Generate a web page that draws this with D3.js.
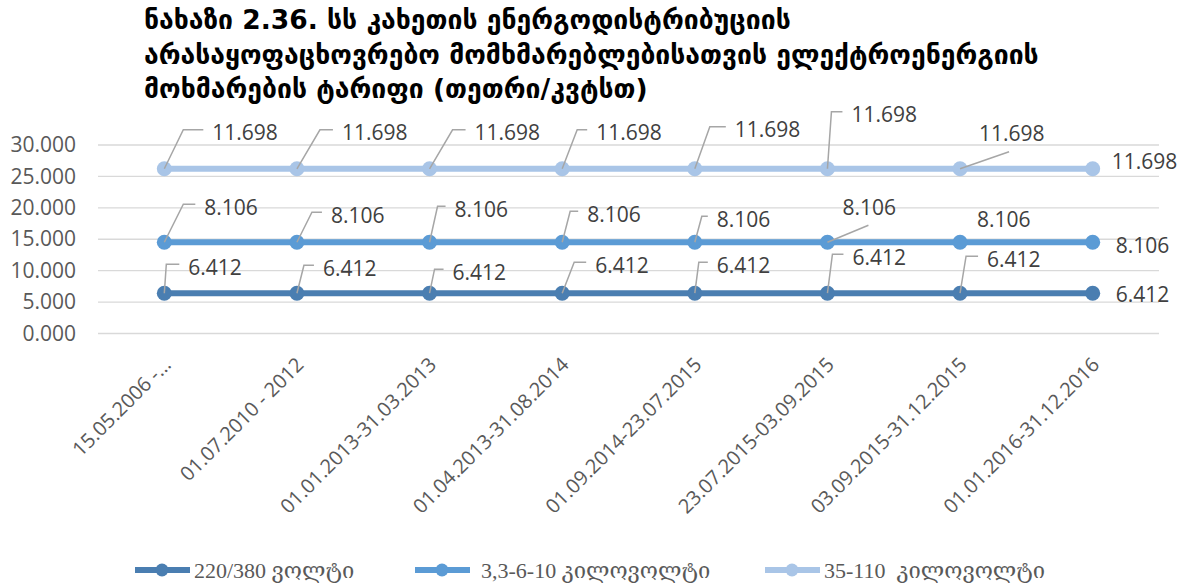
<!DOCTYPE html>
<html>
<head>
<meta charset="utf-8">
<script src="https://cdn.jsdelivr.net/npm/d3@7"></script>
<style>
  body { margin: 0; background: #fff; }
  svg { display: block; }
</style>
</head>
<body>
<script>
// chart data
var titleLines = [
    "ნახაზი 2.36. სს კახეთის ენერგოდისტრიბუციის",
    "არასაყოფაცხოვრებო მომხმარებლებისათვის ელექტროენერგიის",
    "მოხმარების ტარიფი (თეთრი/კვტსთ)"
];
var categories = [
    "15.05.2006 -...", "01.07.2010 - 2012", "01.01.2013-31.03.2013", "01.04.2013-31.08.2014",
    "01.09.2014-23.07.2015", "23.07.2015-03.09.2015", "03.09.2015-31.12.2015", "01.01.2016-31.12.2016"
];
var seriesNames = ["220/380 ვოლტი", "3,3-6-10 კილოვოლტი", "35-110  კილოვოლტი"];
var v220 = [6.412, 6.412, 6.412, 6.412, 6.412, 6.412, 6.412, 6.412];
var v3310 = [8.106, 8.106, 8.106, 8.106, 8.106, 8.106, 8.106, 8.106];
var v35110 = [11.698, 11.698, 11.698, 11.698, 11.698, 11.698, 11.698, 11.698];
var yTicks = [0, 5, 10, 15, 20, 25, 30];

var colors = ["#4a7eb1", "#5b9bd5", "#a9c5e7"];

// label placement (text start dx, centre dy, leader kind, extra)
// e = elbow leader (h = horizontal part), s = slanted leader to (lx,ly), n = none
var labelPos = [
    [[24,-26,"e",13],[26,-25,"e",10],[23,-21,"e",9],[33,-28,"e",12],[22,-28,"e",9],[25,-36,"e",11],[27,-34,"e",12],[23,1,"n"]],
    [[40,-35,"e",12],[34,-27,"e",10],[25,-33,"e",8],[25,-28,"e",8],[22,-23,"e",6],[15,-35,"s",41,-17],[17,-23,"n"],[23,3,"n"]],
    [[48,-36,"e",20],[45,-36,"e",13],[45,-36,"e",13],[34,-36,"e",10],[40,-39,"e",16],[24,-54,"e",11],[19,-35,"s",49,-17],[19,-7,"n"]]
];

var W = 1192, H = 587;
var plotL = 98, plotR = 1159, plotT = 145, plotB = 333.5;

var svg = d3.select("body").append("svg")
    .attr("width", W)
    .attr("height", H);

// title
var title = svg.append("g").attr("class", "title");
var tl = title.selectAll("text").data(titleLines).enter().append("text")
    .attr("x", 144)
    .attr("y", (d, i) => [29, 63.5, 98][i])
    .attr("font-family", "DejaVu Sans, sans-serif")
    .attr("font-weight", "bold")
    .attr("font-size", 20)
    .attr("fill", "#000")
    .text(d => d);
// fit second line to the reference width
var w2 = tl.nodes()[1].getComputedTextLength();
tl.attr("font-size", 20 * 895 / w2);

var xScale = d3.scaleBand().domain(categories).range([plotL, plotR]);
var yScale = d3.scaleLinear().domain([0, 30]).range([plotB, plotT]);
var cx = d => xScale(d) + xScale.bandwidth() / 2;

// gridlines
svg.append("g").selectAll("line").data(yTicks).enter().append("line")
    .attr("x1", plotL).attr("x2", plotR)
    .attr("y1", d => yScale(d)).attr("y2", d => yScale(d))
    .attr("stroke", "#d9d9d9").attr("stroke-width", 1.3);

// y axis labels
var yAxis = d3.axisLeft(yScale).tickValues(yTicks).tickSize(0).tickPadding(0)
    .tickFormat(d3.format(".3f"));
var gy = svg.append("g").attr("transform", "translate(76,0)").call(yAxis);
gy.select(".domain").remove();
gy.selectAll("text")
    .attr("font-family", "Open Sans, sans-serif")
    .attr("font-size", 21)
    .attr("fill", "#595959");

// x axis labels
var gx = svg.append("g");
gx.selectAll("text").data(categories).enter().append("text")
    .attr("transform", d => "translate(" + (cx(d) + 8) + ",366) rotate(-45)")
    .attr("text-anchor", "end")
    .attr("font-family", "Open Sans, sans-serif")
    .attr("font-size", 20)
    .attr("fill", "#595959")
    .text(d => d);

// stacked series
var raw = [v220, v3310, v35110];
var stacked = [];
var acc = categories.map(() => 0);
raw.forEach(function (vals, s) {
    stacked.push(vals.map(function (v, i) {
        acc[i] += v;
        return { cat: categories[i], value: v, total: acc[i], s: s, i: i };
    }));
});

var line = d3.line().x(d => cx(d.cat)).y(d => yScale(d.total));

var gLines = svg.append("g");
stacked.forEach(function (pts, s) {
    gLines.append("path")
        .datum(pts)
        .attr("d", line)
        .attr("fill", "none")
        .attr("stroke", colors[s])
        .attr("stroke-width", 6);
    gLines.selectAll(".m" + s).data(pts).enter().append("circle")
        .attr("class", "m" + s)
        .attr("cx", d => cx(d.cat))
        .attr("cy", d => yScale(d.total))
        .attr("r", 7.5)
        .attr("fill", colors[s]);
});

// data labels with leader lines
var gLab = svg.append("g");
stacked.forEach(function (pts, s) {
    pts.forEach(function (d) {
        var p = labelPos[s][d.i];
        var px = cx(d.cat), py = yScale(d.total);
        var tx = px + p[0], ty = py + p[1];
        if (p[2] === "e") {
            gLab.append("path")
                .attr("d", "M" + px + "," + py + "L" + (tx - 9 - p[3]) + "," + (ty - 3) + "L" + (tx - 9) + "," + (ty - 3))
                .attr("fill", "none").attr("stroke", "#a6a6a6").attr("stroke-width", 1.5);
        } else if (p[2] === "s") {
            gLab.append("line")
                .attr("x1", px).attr("y1", py)
                .attr("x2", px + p[3]).attr("y2", py + p[4])
                .attr("stroke", "#a6a6a6").attr("stroke-width", 1.5);
        }
        gLab.append("text")
            .attr("x", tx).attr("y", ty)
            .attr("dy", "0.36em")
            .attr("font-family", "Open Sans, sans-serif")
            .attr("font-size", 21)
            .attr("fill", "#404040")
            .text(d3.format(".3f")(d.value));
    });
});

// legend
var legX = [135, 415, 765];
var leg = svg.append("g").selectAll("g").data(seriesNames).enter().append("g")
    .attr("transform", (d, i) => "translate(" + legX[i] + ",570)");
leg.append("line").attr("x1", 0).attr("x2", 55).attr("y1", 0).attr("y2", 0)
    .attr("stroke", (d, i) => colors[i]).attr("stroke-width", 6);
leg.append("circle").attr("cx", 27).attr("r", 6.5).attr("fill", (d, i) => colors[i]);
leg.append("text")
    .attr("x", (d, i) => [59, 66, 59][i])
    .attr("y", 8)
    .attr("font-family", "Liberation Serif, DejaVu Serif, serif")
    .attr("font-size", 22)
    .attr("fill", "#595959")
    .style("white-space", "pre")
    .text(d => d);
</script>
</body>
</html>
